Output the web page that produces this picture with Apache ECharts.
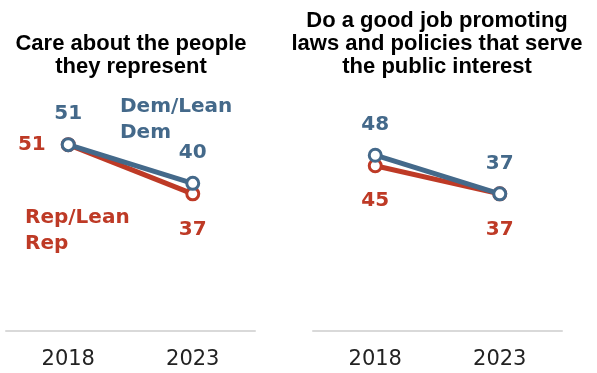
<!DOCTYPE html>
<html>
<head>
<meta charset="utf-8">
<script src="https://cdn.jsdelivr.net/npm/echarts@6/dist/echarts.min.js"></script>
<style>
  html, body { margin: 0; padding: 0; background: #fff; }
  #chart { width: 597px; height: 373px; }
</style>
</head>
<body>
<div id="chart"></div>
<script>
// data
const years = ['2018', '2023'];
const careDem = [51, 40];
const careRep = [51, 37];
const lawsDem = [48, 37];
const lawsRep = [45, 37];

const demColor = '#44698A';
const repColor = '#BE3A26';
const numFont = { fontFamily: 'DejaVu Sans', fontWeight: 'bold', fontSize: 20 };
const titleFont = { fontFamily: 'Liberation Sans', fontWeight: 'bold', fontSize: 22, lineHeight: 23, color: '#000' };

function lbl(color, pos, dist) {
  return Object.assign({ show: true, position: pos, distance: dist, color: color }, numFont);
}

// 一条线 + 空心圆点
function lineSeries(idx, values, color, labels) {
  return {
    type: 'line',
    xAxisIndex: idx,
    yAxisIndex: idx,
    data: values.map((v, i) => ({ value: v, label: labels[i] })),
    symbol: 'circle',
    symbolSize: 12,
    lineStyle: { color: color, width: 5 },
    itemStyle: { color: '#fff', borderColor: color, borderWidth: 3 },
    z: color === demColor ? 3 : 2,
    animation: false
  };
}

function xAxis(idx) {
  return {
    type: 'category',
    gridIndex: idx,
    data: years,
    axisLine: { onZero: false, lineStyle: { color: '#D9D9D9', width: 2 } },
    axisTick: { show: false },
    axisLabel: { color: '#222', fontFamily: 'DejaVu Sans', fontSize: 21, margin: 18 }
  };
}

function yAxis(idx) {
  return { type: 'value', gridIndex: idx, min: -2, max: 60, show: false, splitLine: { show: false } };
}

const chart = echarts.init(document.getElementById('chart'));
chart.setOption({
  backgroundColor: '#fff',
  title: [
    {
      text: 'Care about the people\nthey represent',
      left: 131, top: 32, textAlign: 'center', padding: 0,
      textStyle: titleFont
    },
    {
      text: 'Do a good job promoting\nlaws and policies that serve\nthe public interest',
      left: 437, top: 9, textAlign: 'center', padding: 0,
      textStyle: titleFont
    }
  ],
  grid: [
    { left: 6, width: 249, top: 113, bottom: 42 },
    { left: 313, width: 249, top: 113, bottom: 42 }
  ],
  xAxis: [xAxis(0), xAxis(1)],
  yAxis: [yAxis(0), yAxis(1)],
  series: [
    lineSeries(0, careRep, repColor, [lbl(repColor, 'left', 15), lbl(repColor, 'bottom', 18)]),
    lineSeries(0, careDem, demColor, [lbl(demColor, 'top', 13), lbl(demColor, 'top', 13)]),
    lineSeries(1, lawsRep, repColor, [lbl(repColor, 'bottom', 18), lbl(repColor, 'bottom', 18)]),
    lineSeries(1, lawsDem, demColor, [lbl(demColor, 'top', 13), lbl(demColor, 'top', 13)])
  ],
  graphic: [
    {
      type: 'text', left: 120, top: 94,
      style: Object.assign({ text: 'Dem/Lean\nDem', fill: demColor, lineHeight: 26 }, numFont)
    },
    {
      type: 'text', left: 25, top: 205,
      style: Object.assign({ text: 'Rep/Lean\nRep', fill: repColor, lineHeight: 26 }, numFont)
    }
  ]
});
</script>
</body>
</html>
